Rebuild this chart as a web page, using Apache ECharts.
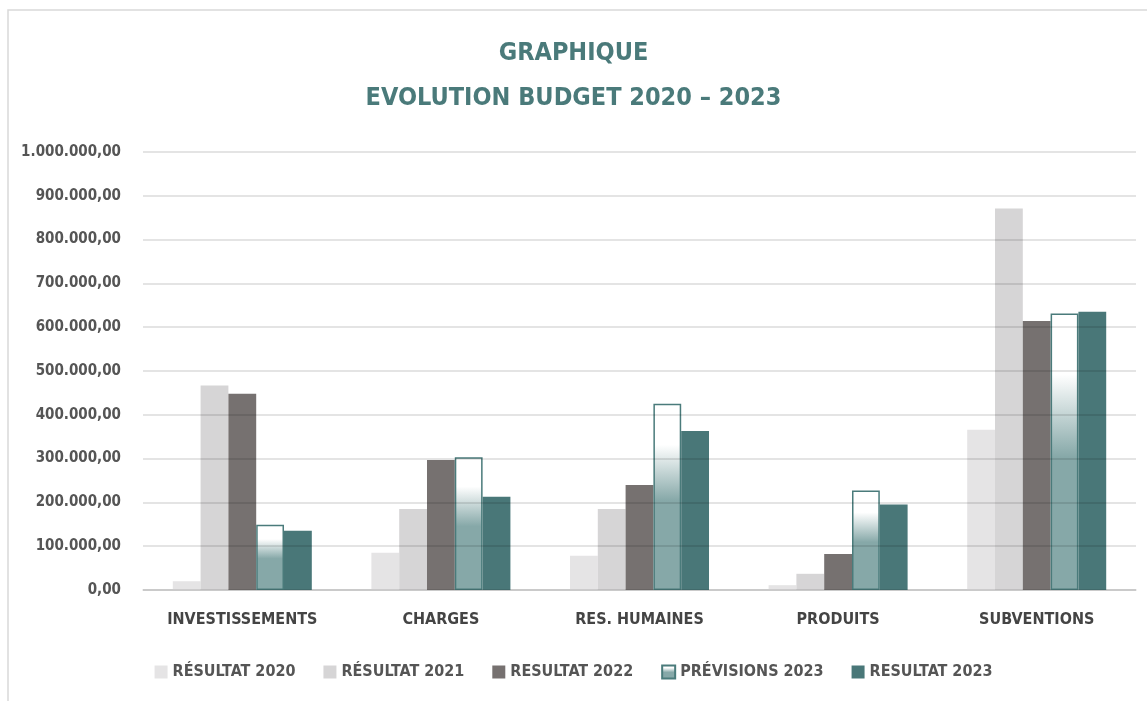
<!DOCTYPE html>
<html>
<head>
<meta charset="utf-8">
<script src="https://cdn.jsdelivr.net/npm/echarts@6/dist/echarts.min.js"></script>
<style>
  html, body { margin: 0; padding: 0; background: #fff; }
  #chart { width: 1147px; height: 701px; }
</style>
</head>
<body>
<div id="chart"></div>
<script>
// donnees
const categories = ['INVESTISSEMENTS', 'CHARGES', 'RES. HUMAINES', 'PRODUITS', 'SUBVENTIONS']
const resultat2020 = [20000, 85000, 78000, 11000, 366000]
const resultat2021 = [467000, 185000, 185000, 37000, 871000]
const resultat2022 = [448000, 297000, 240000, 82000, 614000]
const previsions2023 = [149000, 303000, 425000, 227000, 631000]
const resultat2023 = [135000, 213000, 363000, 195000, 635000]

const font = '"DejaVu Sans Condensed", "Liberation Sans Narrow", sans-serif'
const teal = '#497778'

function fmt(v) {
  const s = Math.round(v).toString().replace(/\B(?=(\d{3})+(?!\d))/g, '.')
  return s + ',00'
}

const chart = echarts.init(document.getElementById('chart'))
chart.setOption({
  backgroundColor: '#fff',
  animation: false,
  title: {
    text: 'GRAPHIQUE\nEVOLUTION BUDGET 2020 – 2023',
    left: 'center',
    top: 26,
    textStyle: {
      color: '#4a7a7a',
      fontFamily: font,
      fontWeight: 'bold',
      fontSize: 25,
      lineHeight: 45
    }
  },
  graphic: [{
    type: 'rect',
    shape: { x: 8, y: 10, width: 1150, height: 700 },
    style: { fill: 'none', stroke: '#d9d9d9', lineWidth: 1.5 },
    silent: true
  }],
  legend: {
    bottom: 16,
    left: 'center',
    icon: 'rect',
    itemWidth: 13,
    itemHeight: 13,
    itemGap: 28,
    textStyle: { color: '#555', fontFamily: font, fontWeight: 'bold', fontSize: 16 }
  },
  grid: { left: 143, right: 11, top: 152, bottom: 111 },
  xAxis: {
    type: 'category',
    data: categories,
    axisTick: { show: false },
    axisLine: { lineStyle: { color: '#d9d9d9', width: 1.5 } },
    axisLabel: { color: '#444', fontFamily: font, fontWeight: 'bold', fontSize: 16, margin: 22 }
  },
  yAxis: {
    type: 'value',
    min: 0,
    max: 1000000,
    interval: 100000,
    z: 3,
    axisLabel: {
      color: '#555', fontFamily: font, fontWeight: 'bold', fontSize: 15, margin: 22,
      formatter: fmt
    },
    splitLine: { lineStyle: { color: 'rgba(0,0,0,0.14)', width: 1.5 } }
  },
  series: [
    { name: 'RÉSULTAT 2020', type: 'bar', data: resultat2020, barGap: '0%', barCategoryGap: '30%',
      itemStyle: { color: '#e5e4e5' } },
    { name: 'RÉSULTAT 2021', type: 'bar', data: resultat2021, itemStyle: { color: '#d6d5d6' } },
    { name: 'RESULTAT 2022', type: 'bar', data: resultat2022, itemStyle: { color: '#767170' } },
    { name: 'PRÉVISIONS 2023', type: 'bar', data: previsions2023,
      itemStyle: {
        color: new echarts.graphic.LinearGradient(0, 0, 0, 1, [
          { offset: 0, color: '#ffffff' },
          { offset: 0.22, color: '#ffffff' },
          { offset: 0.52, color: '#86a8a8' },
          { offset: 1, color: '#86a8a8' }
        ]),
        borderColor: '#4a7b7b',
        borderWidth: 1.5
      } },
    { name: 'RESULTAT 2023', type: 'bar', data: resultat2023, itemStyle: { color: teal } }
  ]
})
</script>
</body>
</html>
